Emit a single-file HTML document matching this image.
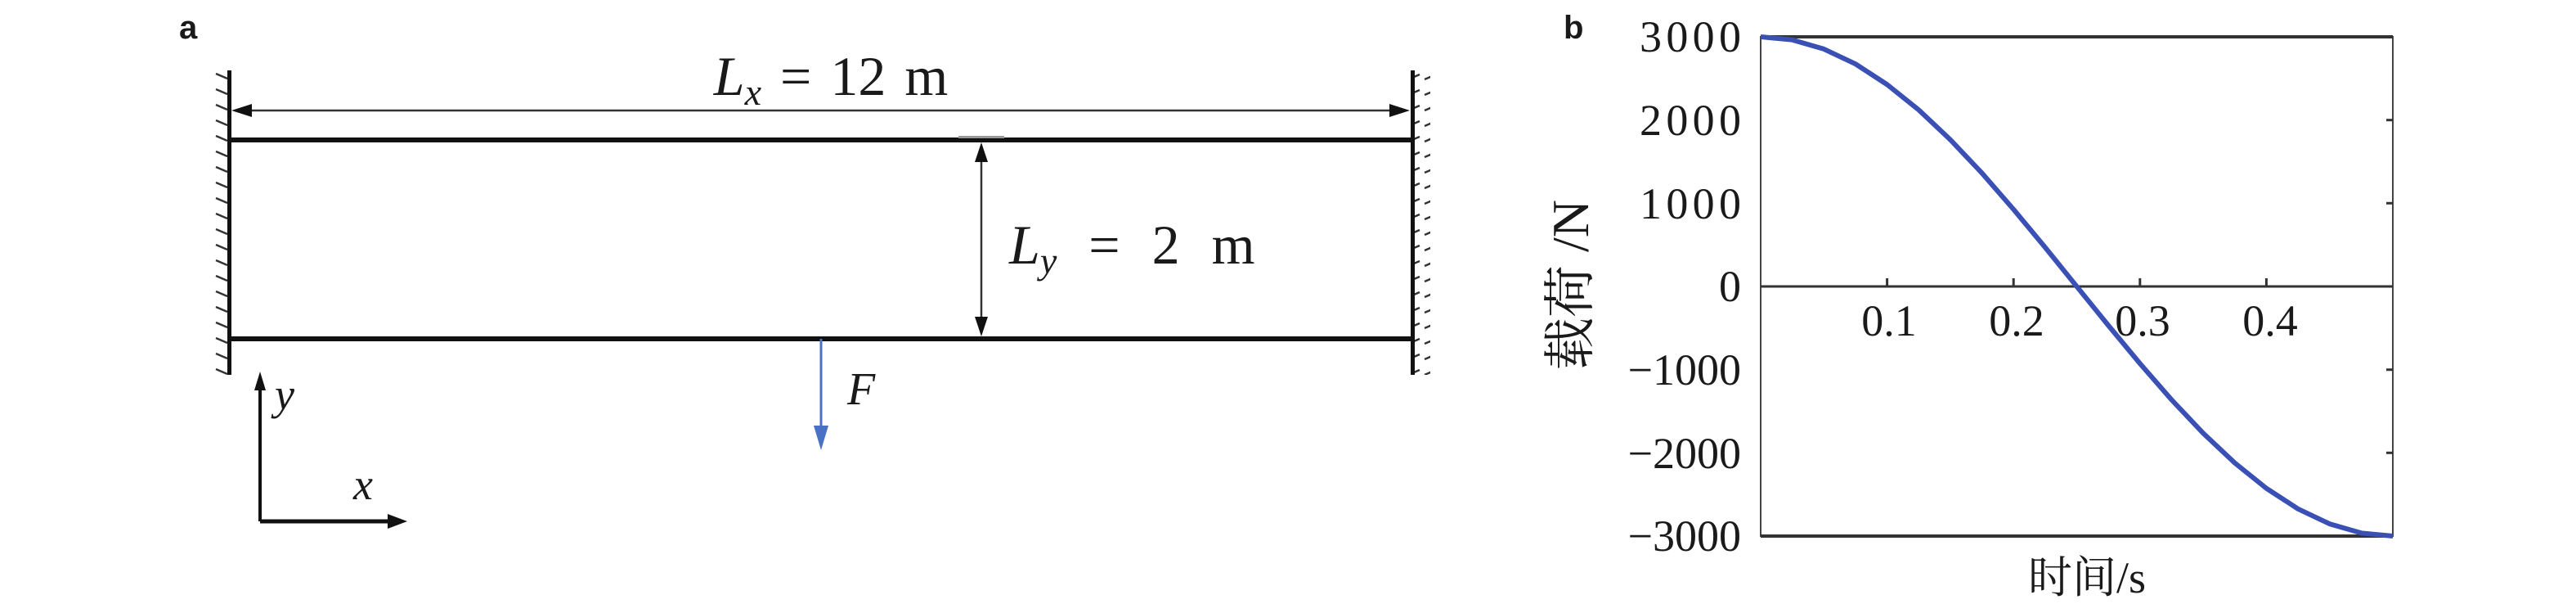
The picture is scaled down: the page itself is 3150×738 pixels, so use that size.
<!DOCTYPE html>
<html><head><meta charset="utf-8"><style>
html,body{margin:0;padding:0;background:#fff;width:3150px;height:738px;overflow:hidden}
svg{display:block}
text{font-family:"Liberation Serif","Noto Serif CJK SC",serif;fill:#1a1a1a}
</style></head><body>
<svg width="3150" height="738" viewBox="0 0 3150 738" xmlns="http://www.w3.org/2000/svg">
<defs>
<pattern id="hl" x="0" y="88" width="20" height="19" patternUnits="userSpaceOnUse">
<line x1="4" y1="2" x2="18" y2="8" stroke="#333" stroke-width="2.5"/>
</pattern>
<pattern id="hr" x="0" y="88" width="20" height="19" patternUnits="userSpaceOnUse">
<line x1="2" y1="9" x2="16" y2="3" stroke="#333" stroke-width="2.5"/>
</pattern>
</defs>
<text x="219" y="47" style="font-family:'Liberation Sans',sans-serif;font-weight:bold;font-size:40px">a</text>
<!-- walls -->
<rect x="262" y="84" width="18" height="374" fill="url(#hl)"/>
<rect x="278" y="86" width="5" height="372" fill="#111"/>
<rect x="1729" y="84" width="20" height="374" fill="url(#hr)"/>
<rect x="1725" y="86" width="5" height="372" fill="#111"/>
<!-- beams -->
<rect x="280" y="168" width="1447" height="6" fill="#111"/>
<rect x="280" y="411" width="1447" height="6" fill="#111"/>
<!-- Lx dimension -->
<line x1="300" y1="135" x2="1707" y2="135" stroke="#333" stroke-width="2.5"/>
<polygon points="283,135 308,127 308,143" fill="#111"/>
<polygon points="1724,135 1699,127 1699,143" fill="#111"/>
<text x="1016" y="116" font-size="68" text-anchor="middle" word-spacing="6"><tspan font-style="italic">L</tspan><tspan font-style="italic" font-size="46" dy="12">x</tspan><tspan dy="-12"> = 12 m</tspan></text>
<!-- Ly dimension -->
<line x1="1200" y1="190" x2="1200" y2="395" stroke="#333" stroke-width="2.5"/>
<polygon points="1200,174 1192,198 1208,198" fill="#111"/>
<polygon points="1200,411 1192,387 1208,387" fill="#111"/>
<rect x="1172" y="166" width="56" height="3" fill="#999"/>
<text x="1234" y="322" font-size="68" word-spacing="22"><tspan font-style="italic">L</tspan><tspan font-style="italic" font-size="46" dy="12">y</tspan><tspan dy="-12"> = 2 m</tspan></text>
<!-- Force -->
<line x1="1004" y1="414" x2="1004" y2="524" stroke="#4a72c4" stroke-width="3"/>
<polygon points="1004,550 995,520 1013,520" fill="#4a72c4"/>
<text x="1036" y="494" font-size="56" font-style="italic">F</text>
<!-- axes -->
<line x1="318" y1="637" x2="476" y2="637" stroke="#111" stroke-width="5"/>
<polygon points="498,637 474,628 474,646" fill="#111"/>
<line x1="318" y1="637" x2="318" y2="474" stroke="#111" stroke-width="4"/>
<polygon points="318,454 311,477 325,477" fill="#111"/>
<text x="336" y="500" font-size="54" font-style="italic">y</text>
<text x="432" y="610" font-size="54" font-style="italic">x</text>

<!-- panel b -->
<text x="1912" y="47" style="font-family:'Liberation Sans',sans-serif;font-weight:bold;font-size:40px">b</text>
<rect x="2153" y="45" width="773" height="610" fill="none" stroke="#444" stroke-width="2"/>
<line x1="2153" y1="45" x2="2926" y2="45" stroke="#333" stroke-width="4"/>
<line x1="2153" y1="655" x2="2926" y2="655" stroke="#333" stroke-width="4"/>
<line x1="2153" y1="350" x2="2926" y2="350" stroke="#333" stroke-width="3"/>
<g stroke="#333" stroke-width="3">
<line x1="2307.6" y1="350" x2="2307.6" y2="340"/><line x1="2462.2" y1="350" x2="2462.2" y2="340"/>
<line x1="2616.8" y1="350" x2="2616.8" y2="340"/><line x1="2771.4" y1="350" x2="2771.4" y2="340"/>
<line x1="2926" y1="146.7" x2="2918" y2="146.7"/><line x1="2926" y1="248.3" x2="2918" y2="248.3"/>
<line x1="2926" y1="451.7" x2="2918" y2="451.7"/><line x1="2926" y1="553.3" x2="2918" y2="553.3"/>
</g>
<g font-size="54" text-anchor="end">
<text x="2129" y="63" textLength="124">3000</text>
<text x="2129" y="165" textLength="124">2000</text>
<text x="2129" y="267" textLength="124">1000</text>
<text x="2129" y="368">0</text>
<text x="2129" y="470">−1000</text>
<text x="2129" y="572">−2000</text>
<text x="2129" y="673">−3000</text>
</g>
<g font-size="54" text-anchor="middle">
<text x="2310" y="410">0.1</text><text x="2466" y="410">0.2</text>
<text x="2620" y="410">0.3</text><text x="2776" y="410">0.4</text>
</g>
<text x="0" y="0" font-size="64" text-anchor="middle" transform="translate(1942,348) rotate(-90)">载荷 /N</text>
<text x="2552" y="724" font-size="54" text-anchor="middle">时间/s</text>
<polyline fill="none" stroke="#3a50b4" stroke-width="6" stroke-linejoin="round" points="2153,45 2191.7,48.7 2230.3,59.9 2269,78.2 2307.6,103.3 2346.3,134.3 2384.9,170.7 2423.6,211.5 2462.2,255.8 2500.9,302.3 2539.5,350 2578.2,397.7 2616.8,444.2 2655.5,488.5 2694.1,529.3 2732.8,565.7 2771.4,596.7 2810.1,621.8 2848.7,640.1 2887.4,651.3 2926,655"/>
</svg>
</body></html>
